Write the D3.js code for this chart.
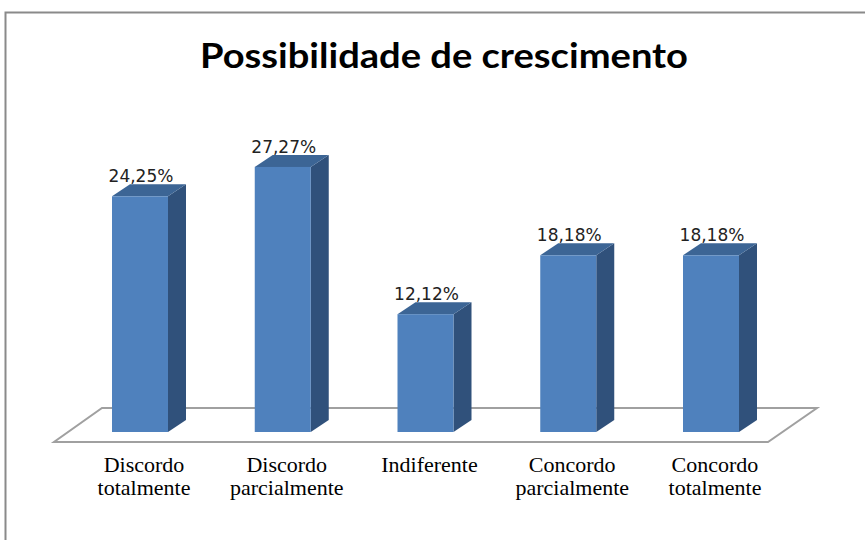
<!DOCTYPE html>
<html>
<head>
<meta charset="utf-8">
<script src="https://cdnjs.cloudflare.com/ajax/libs/d3/7.8.5/d3.min.js"></script>
<style>
  html, body { margin: 0; padding: 0; background: #fff; }
  svg { display: block; }
</style>
</head>
<body>
<div class="chart"></div>
<script>
// chart data
var categories = [
  ["Discordo", "totalmente"],
  ["Discordo", "parcialmente"],
  ["Indiferente"],
  ["Concordo", "parcialmente"],
  ["Concordo", "totalmente"]
];
var values = [24.25, 27.27, 12.12, 18.18, 18.18];
var valueLabels = ["24,25%", "27,27%", "12,12%", "18,18%", "18,18%"];
var title = "Possibilidade de crescimento";

var width = 865,
    height = 540;
var base = 432,          // front bottom of the bars
    barW = 56,
    depthX = 18,
    depthY = 12;

var svg = d3.select(".chart").append("svg")
    .attr("width", width)
    .attr("height", height);

// outer frame (runs off the right/bottom of the picture)
svg.append("rect")
    .attr("x", 5.5).attr("y", 12.5)
    .attr("width", 900).attr("height", 600)
    .attr("fill", "none")
    .attr("stroke", "#8a8a8a")
    .attr("stroke-width", 2);

svg.append("text")
    .attr("x", 444).attr("y", 68)
    .attr("text-anchor", "middle")
    .attr("textLength", 488)
    .attr("lengthAdjust", "spacingAndGlyphs")
    .style("font-family", "Lato, 'Open Sans', sans-serif")
    .style("font-weight", "bold")
    .style("font-size", "35px")
    .style("fill", "#000")
    .text(title);

var idx = d3.range(values.length);
var x = d3.scalePoint()
    .domain(idx)
    .range([140, 711]);
var y = d3.scaleLinear()
    .domain([0, 30])
    .range([base, base - 291.6]);

// floor
var floorFront = base + 10, floorBack = base - 24;
var fl = x(0) - 86, fr = x(idx.length - 1) + 57;
svg.append("path")
    .attr("d", "M" + (fl + 48) + "," + floorBack +
               "L" + (fr + 49) + "," + floorBack +
               "L" + fr + "," + floorFront +
               "L" + fl + "," + floorFront + "Z")
    .attr("fill", "#fff")
    .attr("stroke", "#a0a0a0")
    .attr("stroke-width", 2);

var bars = svg.append("g").selectAll("g")
    .data(idx)
    .enter().append("g");

// side face
bars.append("path")
    .attr("d", function(i) {
      var x1 = x(i) + barW / 2, t = y(values[i]);
      return "M" + x1 + "," + t + "L" + (x1 + depthX) + "," + (t - depthY) +
             "L" + (x1 + depthX) + "," + (base - depthY) + "L" + x1 + "," + base + "Z";
    })
    .attr("fill", "#30517b");

// top face
bars.append("path")
    .attr("d", function(i) {
      var x0 = x(i) - barW / 2, x1 = x(i) + barW / 2, t = y(values[i]);
      return "M" + x0 + "," + t + "L" + (x0 + depthX) + "," + (t - depthY) +
             "L" + (x1 + depthX) + "," + (t - depthY) + "L" + x1 + "," + t + "Z";
    })
    .attr("fill", "#3c6595");

// front face
bars.append("rect")
    .attr("x", function(i) { return x(i) - barW / 2; })
    .attr("y", function(i) { return y(values[i]); })
    .attr("width", barW)
    .attr("height", function(i) { return base - y(values[i]); })
    .attr("fill", "#4f81bd");

// value labels
bars.append("text")
    .attr("x", function(i) { return x(i) + 1; })
    .attr("y", function(i) { return y(values[i]) - 14; })
    .attr("text-anchor", "middle")
    .style("font-family", "'DejaVu Sans', sans-serif")
    .style("font-size", "17px")
    .style("fill", "#222")
    .text(function(i) { return valueLabels[i]; });

// category labels
var cat = svg.append("g").selectAll("text")
    .data(idx)
    .enter().append("text")
    .attr("text-anchor", "middle")
    .style("font-family", "'Liberation Serif', 'Times New Roman', serif")
    .style("font-size", "22px")
    .style("fill", "#000");
cat.selectAll("tspan")
    .data(function(i) { return categories[i].map(function(s) { return [i, s]; }); })
    .enter().append("tspan")
    .attr("x", function(d) { return x(d[0]) + 4; })
    .attr("y", function(d, j) { return 472 + j * 23; })
    .text(function(d) { return d[1]; });
</script>
</body>
</html>
